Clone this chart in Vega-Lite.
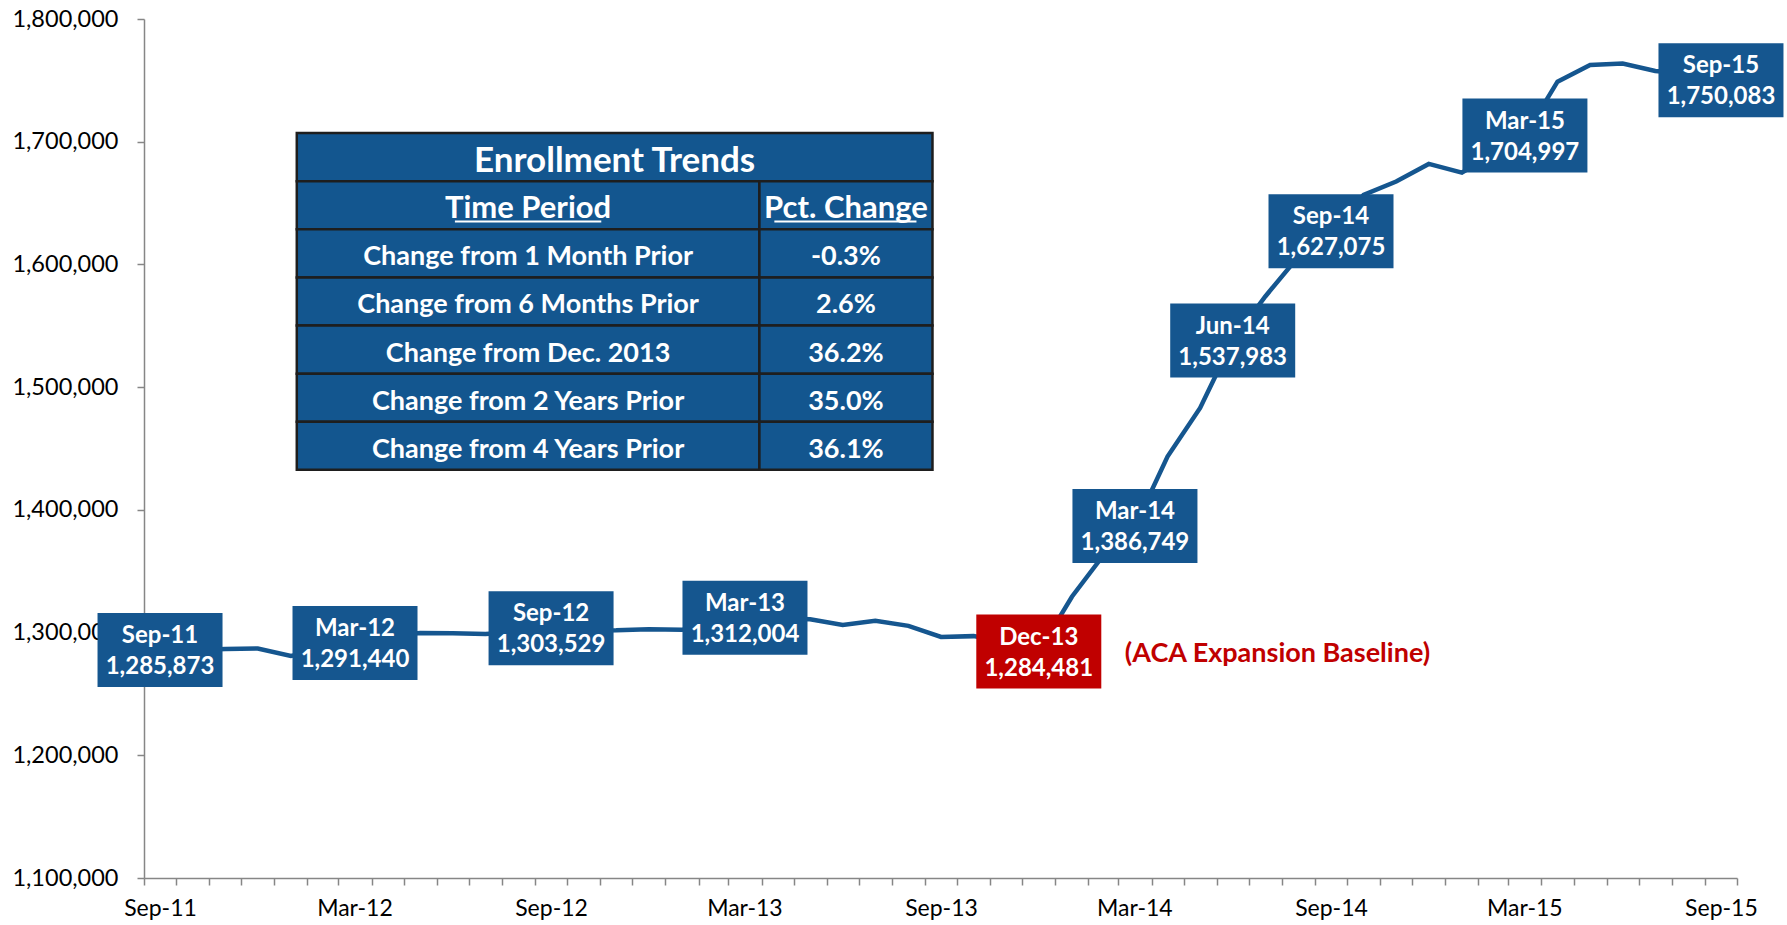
{
  "$schema": "https://vega.github.io/schema/vega-lite/v6.json",
  "width": 1593,
  "height": 859,
  "autosize": {"type": "none"},
  "padding": {"left": 144, "top": 19, "right": 50, "bottom": 47},
  "background": "white",
  "config": {"view": {"stroke": null}, "font": "Lato"},
  "datasets": {
    "enrollment": [
      {"month": "2011/09/01", "enrollment": 1285873, "marker": "milestone"},
      {"month": "2011/10/01", "enrollment": 1285500},
      {"month": "2011/11/01", "enrollment": 1286600},
      {"month": "2011/12/01", "enrollment": 1287000},
      {"month": "2012/01/01", "enrollment": 1281000},
      {"month": "2012/02/01", "enrollment": 1286000},
      {"month": "2012/03/01", "enrollment": 1291440, "marker": "milestone"},
      {"month": "2012/04/01", "enrollment": 1297000},
      {"month": "2012/05/01", "enrollment": 1299600},
      {"month": "2012/06/01", "enrollment": 1299400},
      {"month": "2012/07/01", "enrollment": 1298800},
      {"month": "2012/08/01", "enrollment": 1300500},
      {"month": "2012/09/01", "enrollment": 1303529, "marker": "milestone"},
      {"month": "2012/10/01", "enrollment": 1301500},
      {"month": "2012/11/01", "enrollment": 1301800},
      {"month": "2012/12/01", "enrollment": 1302800},
      {"month": "2013/01/01", "enrollment": 1302300},
      {"month": "2013/02/01", "enrollment": 1305000},
      {"month": "2013/03/01", "enrollment": 1312004, "marker": "milestone"},
      {"month": "2013/04/01", "enrollment": 1311500},
      {"month": "2013/05/01", "enrollment": 1310800},
      {"month": "2013/06/01", "enrollment": 1306100},
      {"month": "2013/07/01", "enrollment": 1309600},
      {"month": "2013/08/01", "enrollment": 1305500},
      {"month": "2013/09/01", "enrollment": 1296400},
      {"month": "2013/10/01", "enrollment": 1297100},
      {"month": "2013/11/01", "enrollment": 1292000},
      {"month": "2013/12/01", "enrollment": 1284481, "marker": "baseline"},
      {"month": "2014/01/01", "enrollment": 1329200},
      {"month": "2014/02/01", "enrollment": 1363000},
      {"month": "2014/03/01", "enrollment": 1386749, "marker": "milestone"},
      {"month": "2014/04/01", "enrollment": 1443400},
      {"month": "2014/05/01", "enrollment": 1483100},
      {"month": "2014/06/01", "enrollment": 1537983, "marker": "milestone"},
      {"month": "2014/07/01", "enrollment": 1573900},
      {"month": "2014/08/01", "enrollment": 1606400},
      {"month": "2014/09/01", "enrollment": 1627075, "marker": "milestone"},
      {"month": "2014/10/01", "enrollment": 1656600},
      {"month": "2014/11/01", "enrollment": 1667600},
      {"month": "2014/12/01", "enrollment": 1681900},
      {"month": "2015/01/01", "enrollment": 1674800},
      {"month": "2015/02/01", "enrollment": 1690000},
      {"month": "2015/03/01", "enrollment": 1704997, "marker": "milestone"},
      {"month": "2015/04/01", "enrollment": 1748900},
      {"month": "2015/05/01", "enrollment": 1762500},
      {"month": "2015/06/01", "enrollment": 1763700},
      {"month": "2015/07/01", "enrollment": 1757600},
      {"month": "2015/08/01", "enrollment": 1755350},
      {"month": "2015/09/01", "enrollment": 1750083, "marker": "milestone"}
    ],
    "table": [
      {"kind": "title", "start": "2012/01/22", "end": "2013/09/08", "top": 1707000, "bottom": 1667800, "text": "Enrollment Trends"},
      {"kind": "header", "start": "2012/01/22", "end": "2013/03/30", "top": 1667800, "bottom": 1628600, "text": "Time Period"},
      {"kind": "header", "start": "2013/03/30", "end": "2013/09/08", "top": 1667800, "bottom": 1628600, "text": "Pct. Change"},
      {"kind": "cell", "start": "2012/01/22", "end": "2013/03/30", "top": 1628600, "bottom": 1589400, "text": "Change from 1 Month Prior"},
      {"kind": "cell", "start": "2013/03/30", "end": "2013/09/08", "top": 1628600, "bottom": 1589400, "text": "-0.3%"},
      {"kind": "cell", "start": "2012/01/22", "end": "2013/03/30", "top": 1589400, "bottom": 1550200, "text": "Change from 6 Months Prior"},
      {"kind": "cell", "start": "2013/03/30", "end": "2013/09/08", "top": 1589400, "bottom": 1550200, "text": "2.6%"},
      {"kind": "cell", "start": "2012/01/22", "end": "2013/03/30", "top": 1550200, "bottom": 1511000, "text": "Change from Dec. 2013"},
      {"kind": "cell", "start": "2013/03/30", "end": "2013/09/08", "top": 1550200, "bottom": 1511000, "text": "36.2%"},
      {"kind": "cell", "start": "2012/01/22", "end": "2013/03/30", "top": 1511000, "bottom": 1471800, "text": "Change from 2 Years Prior"},
      {"kind": "cell", "start": "2013/03/30", "end": "2013/09/08", "top": 1511000, "bottom": 1471800, "text": "35.0%"},
      {"kind": "cell", "start": "2012/01/22", "end": "2013/03/30", "top": 1471800, "bottom": 1432600, "text": "Change from 4 Years Prior"},
      {"kind": "cell", "start": "2013/03/30", "end": "2013/09/08", "top": 1471800, "bottom": 1432600, "text": "36.1%"}
    ],
    "underlines": [
      {"start": "2012/06/18", "end": "2012/11/02", "level": 1635000},
      {"start": "2013/04/13", "end": "2013/08/24", "level": 1635000}
    ]
  },
  "layer": [
    {
      "data": {"name": "enrollment"},
      "mark": {"type": "line", "color": "#15568F", "strokeWidth": 4.5},
      "encoding": {
        "x": {
          "field": "month", "timeUnit": "yearmonth", "type": "temporal", "bandPosition": 0.5,
          "scale": {"domain": [{"year": 2011, "month": 9, "date": 1}, {"year": 2015, "month": 10, "date": 1}], "nice": false},
          "axis": {
            "title": null, "grid": false,
            "tickCount": {"interval": "month", "step": 1},
            "labelExpr": "(month(datum.value) == 8 || month(datum.value) == 2) ? timeFormat(datum.value, '%b-%y') : ''",
            "labelOffset": 16, "labelOverlap": false, "labelFlush": false,
            "labelFont": "Lato", "labelFontSize": 23, "labelColor": "#000000", "labelPadding": 12,
            "tickSize": 7, "tickColor": "#868686", "tickWidth": 1.5,
            "domainColor": "#868686", "domainWidth": 1.5
          }
        },
        "y": {
          "field": "enrollment", "type": "quantitative",
          "scale": {"domain": [1100000, 1800000], "nice": false, "zero": false},
          "axis": {
            "title": null, "grid": false,
            "values": [1100000, 1200000, 1300000, 1400000, 1500000, 1600000, 1700000, 1800000],
            "labelExpr": "format(datum.value, ',.0f')",
            "labelFont": "Lato", "labelFontSize": 23.5, "labelColor": "#000000", "labelPadding": 19,
            "tickSize": 7, "tickColor": "#868686", "tickWidth": 1.5,
            "domainColor": "#868686", "domainWidth": 1.5
          }
        }
      }
    },
    {
      "data": {"name": "enrollment"},
      "transform": [{"filter": "isValid(datum.marker)"}],
      "mark": {"type": "point", "shape": "M-1,-0.592L1,-0.592L1,0.592L-1,0.592Z", "filled": true, "opacity": 1, "size": 15625, "strokeWidth": 0},
      "encoding": {
        "x": {"field": "month", "timeUnit": "yearmonth", "type": "temporal", "bandPosition": 0.5},
        "y": {"field": "enrollment", "type": "quantitative"},
        "color": {"field": "marker", "type": "nominal", "scale": {"domain": ["milestone", "baseline"], "range": ["#15568F", "#C00000"]}, "legend": null}
      }
    },
    {
      "data": {"name": "enrollment"},
      "transform": [
        {"filter": "isValid(datum.marker)"},
        {"calculate": "timeFormat(toDate(datum.month), '%b-%y') + '\\n' + format(datum.enrollment, ',')", "as": "label"}
      ],
      "mark": {"type": "text", "font": "Lato", "fontSize": 24, "fontWeight": "bold", "color": "white", "lineBreak": "\n", "lineHeight": 31, "align": "center", "baseline": "middle", "dy": -14},
      "encoding": {
        "x": {"field": "month", "timeUnit": "yearmonth", "type": "temporal", "bandPosition": 0.5},
        "y": {"field": "enrollment", "type": "quantitative"},
        "text": {"field": "label"}
      }
    },
    {
      "data": {"name": "enrollment"},
      "transform": [{"filter": "datum.marker == 'baseline'"}],
      "mark": {"type": "text", "font": "Lato", "fontSize": 27, "fontWeight": "bold", "color": "#C00000", "align": "left", "baseline": "middle", "dx": 86, "dy": 2},
      "encoding": {
        "x": {"field": "month", "timeUnit": "yearmonth", "type": "temporal", "bandPosition": 0.5},
        "y": {"field": "enrollment", "type": "quantitative"},
        "text": {"value": "(ACA Expansion Baseline)"}
      }
    },
    {
      "data": {"name": "table"},
      "mark": {"type": "rect", "fill": "#13568F", "stroke": "#1E1E1E", "strokeWidth": 2.5},
      "encoding": {
        "x": {"field": "start", "type": "temporal"},
        "x2": {"field": "end"},
        "y": {"field": "top", "type": "quantitative"},
        "y2": {"field": "bottom"}
      }
    },
    {
      "data": {"name": "table"},
      "transform": [
        {"calculate": "(toNumber(toDate(datum.start)) + toNumber(toDate(datum.end))) / 2", "as": "xmid"},
        {"calculate": "(datum.top + datum.bottom) / 2", "as": "ymid"}
      ],
      "mark": {"type": "text", "font": "Lato", "fontWeight": "bold", "color": "white", "align": "center", "baseline": "middle", "dy": 4},
      "encoding": {
        "x": {"field": "xmid", "type": "temporal"},
        "y": {"field": "ymid", "type": "quantitative"},
        "text": {"field": "text"},
        "size": {"field": "kind", "type": "nominal", "scale": {"domain": ["title", "header", "cell"], "range": [35, 27, 27.5]}, "legend": null}
      }
    },
    {
      "data": {"name": "underlines"},
      "mark": {"type": "rule", "color": "white", "strokeWidth": 2},
      "encoding": {
        "x": {"field": "start", "type": "temporal"},
        "x2": {"field": "end"},
        "y": {"field": "level", "type": "quantitative"}
      }
    }
  ]
}
